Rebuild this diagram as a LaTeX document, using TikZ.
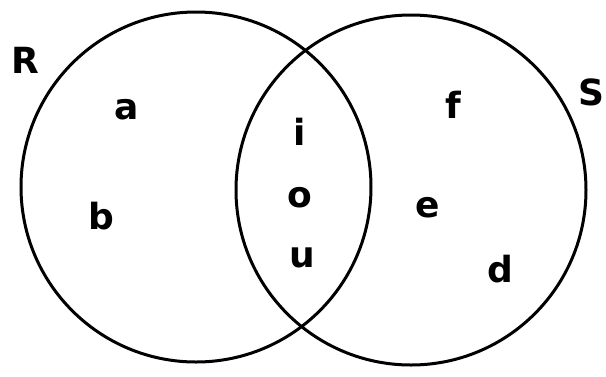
\documentclass[tikz,border=0pt]{standalone}
\usepackage{fontspec}
\setmainfont{DejaVu Sans}
\begin{document}
\begin{tikzpicture}[x=1pt,y=-1pt,
  lbl/.style={font=\bfseries\fontsize{36}{40}\selectfont, anchor=base, inner sep=0pt},
  setc/.style={draw=black, line width=3pt}]
\useasboundingbox (0,0) rectangle (606,376);
\node[setc, circle, minimum size=350pt, inner sep=0pt] (Rc) at (196,187) {};
\node[setc, circle, minimum size=350pt, inner sep=0pt] (Sc) at (411,190) {};
\node[lbl] (R) at (25,73) {R};
\node[lbl] (S) at (591,105) {S};
\node[lbl] (a) at (127,119) {a};
\node[lbl] (b) at (101,229) {b};
\node[lbl] (i) at (300,145) {i};
\node[lbl] (o) at (300,207) {o};
\node[lbl] (u) at (302,267) {u};
\node[lbl] (f) at (453,118) {f};
\node[lbl] (e) at (428,217) {e};
\node[lbl] (d) at (500,282) {d};
\end{tikzpicture}
\end{document}
